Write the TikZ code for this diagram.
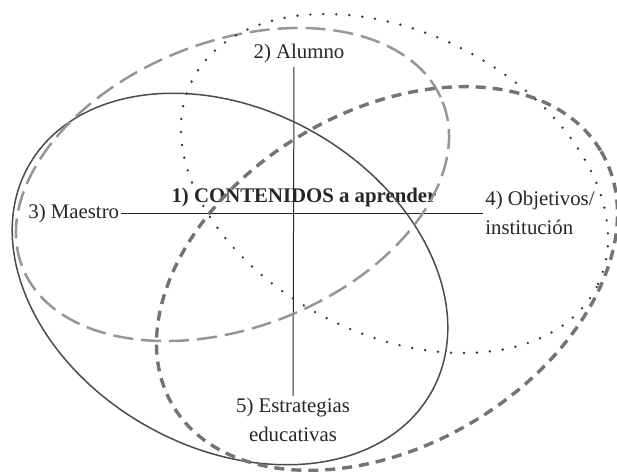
\documentclass[tikz,border=0pt]{standalone}
\usepackage{fontspec}
\setmainfont{Liberation Serif}
\usepackage{xcolor}
\definecolor{inkdark}{RGB}{75,75,75}
\definecolor{inklight}{RGB}{150,150,150}
\definecolor{inkmid}{RGB}{115,115,115}
\definecolor{dotink}{RGB}{55,55,55}
\usepackage{tikz}
\usetikzlibrary{positioning,calc}
\tikzset{
  tag/.style={font=\fontsize{10.4}{14.5}\selectfont,text=black!85,inner sep=1pt},
  ringsolid/.style={draw=inkdark,line width=0.75pt},
  ringlong/.style={draw=inklight,line width=1.25pt,dash pattern=on 10pt off 4pt},
  ringdot/.style={draw=dotink,line width=1.35pt,line cap=round,dash pattern=on 0pt off 6.5pt},
  ringshort/.style={draw=inkmid,line width=1.7pt,dash pattern=on 5pt off 3.5pt},
  axis/.style={draw=black!85,line width=0.5pt},
}

\begin{document}
\begin{tikzpicture}[x=0.5pt,y=-0.5pt]
\useasboundingbox (0,0) rectangle (617,472);
% labels
\node[tag] (alumno) at (299,53) {2) Alumno};
\node[tag,anchor=west] (maestro) at (26,213) {3) Maestro};
\node[tag] (cont) at (304,197) {\textbf{1) CONTENIDOS a aprender}};
\node[tag,anchor=west,align=left] (obj) at (483,213) {4) Objetivos/\\instituci\'on};
\node[tag,align=center] (estr) at (293,420) {5) Estrategias\\educativas};
\coordinate (vtop) at (294,67);
% axes
\draw[axis] (maestro.east) -- (maestro.east -| obj.west);
\draw[axis] (estr.north) -- (vtop);
% rings
\draw[ringsolid,rotate around={-29.3:(230,279)}] (230,279) ellipse [x radius=231,y radius=169];
\draw[ringlong,rotate around={21.5:(232.5,184.5)}] (232.5,184.5) ellipse [x radius=225.8,y radius=142.8];
\draw[ringdot,rotate around={-27.1:(394.5,183.5)}] (394.5,183.5) ellipse [x radius=227.1,y radius=150.8];
\draw[ringshort,rotate around={30.7:(387,278.5)}] (387,278.5) ellipse [x radius=249,y radius=167.1];
\end{tikzpicture}
\end{document}
